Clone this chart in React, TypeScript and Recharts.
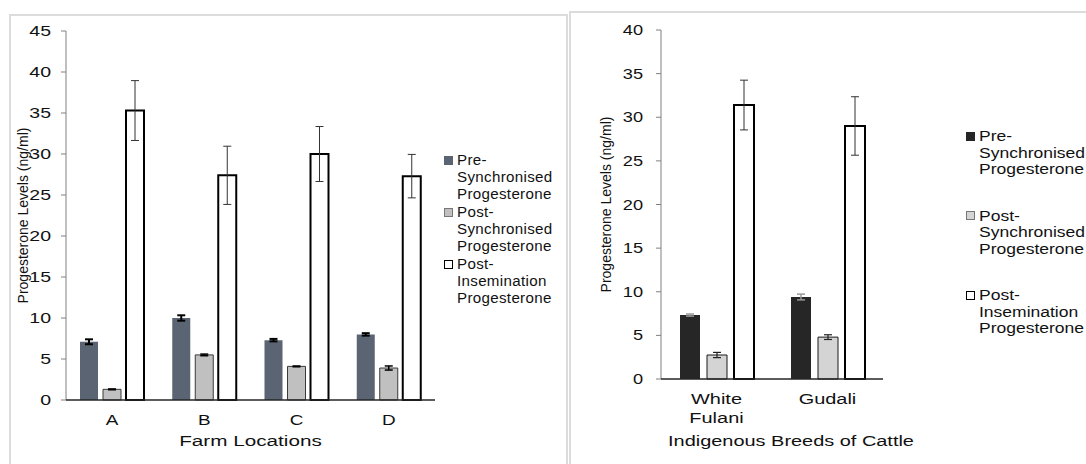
import React from 'react';
import { BarChart, Bar, XAxis, YAxis, ErrorBar, Legend, Label } from 'recharts';

const FONT = '"Liberation Sans", Arial, sans-serif';

// left panel: farm locations
const farms = ['A', 'B', 'C', 'D'];
const farmPre = [7.1, 10.0, 7.3, 8.0];
const farmPreErr = [0.3, 0.33, 0.15, 0.15];
const farmPostSync = [1.3, 5.5, 4.1, 3.9];
const farmPostSyncErr = [0.05, 0.1, 0.05, 0.25];
const farmPostInsem = [35.3, 27.4, 30.0, 27.3];
const farmPostInsemErr = [3.65, 3.55, 3.35, 2.65];
const farmTicks = [0, 5, 10, 15, 20, 25, 30, 35, 40, 45];

// right panel: breeds
const breeds = ['White\nFulani', 'Gudali'];
const breedPre = [7.33, 9.4];
const breedPreErr = [0.12, 0.33];
const breedPostSync = [2.75, 4.8];
const breedPostSyncErr = [0.3, 0.27];
const breedPostInsem = [31.4, 29.0];
const breedPostInsemErr = [2.85, 3.35];
const breedTicks = [0, 5, 10, 15, 20, 25, 30, 35, 40];

const seriesNames = [
  'Pre-\nSynchronised\nProgesterone',
  'Post-\nSynchronised\nProgesterone',
  'Post-\nInsemination\nProgesterone',
];
const yTitle = 'Progesterone Levels (ng/ml)';

const farmData = farms.map((name, i) => ({
  name,
  pre: farmPre[i],
  preErr: farmPreErr[i],
  postSync: farmPostSync[i],
  postSyncErr: farmPostSyncErr[i],
  postInsem: farmPostInsem[i],
  postInsemErr: farmPostInsemErr[i],
}));

const breedData = breeds.map((name, i) => ({
  name,
  pre: breedPre[i],
  preErr: breedPreErr[i],
  postSync: breedPostSync[i],
  postSyncErr: breedPostSyncErr[i],
  postInsem: breedPostInsem[i],
  postInsemErr: breedPostInsemErr[i],
}));

const StretchTick = (props: any) => {
  const { x, y, payload, sx, fontSize, anchor, dy, lineHeight } = props;
  const lines = String(payload.value).split('\n');
  return (
    <g transform={`translate(${x},${y})`}>
      <text
        transform={`scale(${sx},1)`}
        textAnchor={anchor}
        fontSize={fontSize}
        fontFamily={FONT}
        fill="#111"
      >
        {lines.map((l, i) => (
          <tspan key={i} x={0} dy={i === 0 ? dy : lineHeight}>
            {l}
          </tspan>
        ))}
      </text>
    </g>
  );
};

const xTitle = (text: string, dyBase: number, dx: number, sx: number) => (p: any) => {
  const vb = p.viewBox;
  const cx = vb.x + vb.width / 2 + dx;
  const cy = vb.y + dyBase;
  return (
    <g transform={`translate(${cx},${cy})`}>
      <text transform={`scale(${sx},1)`} textAnchor="middle" fontSize={15} fontFamily={FONT} fill="#111">
        {text}
      </text>
    </g>
  );
};

const yLabel = (dx: number) => (p: any) => {
  const vb = p.viewBox;
  const cx = vb.x + dx;
  const cy = vb.y + vb.height / 2;
  return (
    <text
      x={cx}
      y={cy}
      transform={`rotate(-90, ${cx}, ${cy})`}
      textAnchor="middle"
      dy="0.35em"
      fontSize={14}
      fontFamily={FONT}
      fill="#111"
    >
      {yTitle}
    </text>
  );
};

type Swatch = { fill: string; border: string };

// legend keeps the series order (recharts sorts by name otherwise)
const legendContent = (swatches: Swatch[], lineH: number, gap: number, sx: number, spacing: number) =>
  (props: any) => {
    const items = [...(props.payload || [])].sort(
      (a: any, b: any) => seriesNames.indexOf(a.value) - seriesNames.indexOf(b.value)
    );
    return (
      <div style={{ fontFamily: FONT, fontSize: 14, color: '#111' }}>
        {items.map((e: any) => {
          const sw = swatches[seriesNames.indexOf(e.value)];
          return (
            <div key={e.value} style={{ display: 'flex', alignItems: 'flex-start', marginBottom: gap }}>
              <span
                style={{
                  display: 'inline-block',
                  width: 9,
                  height: 9,
                  flex: '0 0 9px',
                  boxSizing: 'border-box',
                  marginTop: (lineH - 9) / 2,
                  background: sw.fill,
                  border: `1.5px solid ${sw.border}`,
                }}
              />
              <div
                style={{
                  marginLeft: 4,
                  whiteSpace: 'pre-line',
                  lineHeight: `${lineH}px`,
                  letterSpacing: spacing,
                  transform: `scaleX(${sx})`,
                  transformOrigin: 'left top',
                }}
              >
                {e.value}
              </div>
            </div>
          );
        })}
      </div>
    );
  };

const farmSwatches: Swatch[] = [
  { fill: '#5a6472', border: '#5a6472' },
  { fill: '#c0c0c0', border: '#777' },
  { fill: '#fff', border: '#000' },
];
const breedSwatches: Swatch[] = [
  { fill: '#262626', border: '#262626' },
  { fill: '#d4d4d4', border: '#777' },
  { fill: '#fff', border: '#000' },
];

export default function App() {
  return (
    <div
      style={{
        position: 'absolute',
        left: 0,
        top: 0,
        width: 1086,
        height: 464,
        overflow: 'hidden',
        background: '#fff',
        fontFamily: FONT,
      }}
    >
      <div
        style={{
          position: 'absolute',
          left: 9,
          top: 14,
          width: 559,
          height: 460,
          boxSizing: 'border-box',
          border: '2px solid #dcdcdc',
          borderBottom: 'none',
        }}
      >
        <BarChart
          width={555}
          height={448}
          data={farmData}
          barGap={5}
          margin={{ top: 15, right: 11, bottom: 14, left: 0 }}
        >
          <YAxis
            width={55}
            domain={[0, 45]}
            ticks={farmTicks}
            interval={0}
            stroke="#808080"
            tickSize={5}
            tickMargin={10}
            tick={<StretchTick sx={1.3} fontSize={15} anchor="end" dy={5} lineHeight={0} />}
          >
            <Label content={yLabel(12)} />
          </YAxis>
          <XAxis
            dataKey="name"
            height={50}
            stroke="#262626"
            strokeWidth={1.5}
            tickLine={false}
            tickSize={0}
            tickMargin={0}
            interval={0}
            tick={<StretchTick sx={1.35} fontSize={14} anchor="middle" dy={25} lineHeight={0} />}
          >
            <Label content={xTitle('Farm Locations', 46, 0, 1.38)} />
          </XAxis>
          <Legend
            layout="vertical"
            align="right"
            verticalAlign="top"
            width={120}
            wrapperStyle={{ left: 433, top: 136 }}
            content={legendContent(farmSwatches, 17, 1, 1.08, 0.3)}
          />
          <Bar dataKey="pre" name={seriesNames[0]} fill="#5a6472" barSize={18} isAnimationActive={false}>
            <ErrorBar dataKey="preErr" width={4} stroke="#000" strokeWidth={2} isAnimationActive={false} />
          </Bar>
          <Bar
            dataKey="postSync"
            name={seriesNames[1]}
            fill="#c0c0c0"
            stroke="#3a3a3a"
            strokeWidth={1}
            barSize={18}
            isAnimationActive={false}
          >
            <ErrorBar dataKey="postSyncErr" width={4} stroke="#000" strokeWidth={1.5} isAnimationActive={false} />
          </Bar>
          <Bar
            dataKey="postInsem"
            name={seriesNames[2]}
            fill="#fff"
            stroke="#000"
            strokeWidth={2}
            barSize={18}
            isAnimationActive={false}
          >
            <ErrorBar dataKey="postInsemErr" width={4} stroke="#333" strokeWidth={1} isAnimationActive={false} />
          </Bar>
        </BarChart>
      </div>

      <div
        style={{
          position: 'absolute',
          left: 569,
          top: 11,
          width: 530,
          height: 470,
          boxSizing: 'border-box',
          border: '2px solid #dcdcdc',
          borderBottom: 'none',
        }}
      >
        <BarChart
          width={515}
          height={451}
          data={breedData}
          barGap={7}
          margin={{ top: 17, right: 73, bottom: 10, left: 0 }}
        >
          <YAxis
            width={90}
            domain={[0, 40]}
            ticks={breedTicks}
            interval={0}
            stroke="#808080"
            tickSize={5}
            tickMargin={13}
            tick={<StretchTick sx={1.3} fontSize={14} anchor="end" dy={5} lineHeight={0} />}
          >
            <Label content={yLabel(35)} />
          </YAxis>
          <XAxis
            dataKey="name"
            height={75}
            stroke="#262626"
            strokeWidth={1.5}
            tickLine={false}
            tickSize={0}
            tickMargin={0}
            interval={0}
            tick={<StretchTick sx={1.33} fontSize={15} anchor="middle" dy={25} lineHeight={19} />}
          >
            <Label content={xTitle('Indigenous Breeds of Cattle', 67, 19, 1.33)} />
          </XAxis>
          <Legend
            layout="vertical"
            align="right"
            verticalAlign="top"
            width={130}
            wrapperStyle={{ left: 395, top: 115 }}
            content={legendContent(breedSwatches, 16.5, 30, 1.25, 0)}
          />
          <Bar dataKey="pre" name={seriesNames[0]} fill="#262626" barSize={20} isAnimationActive={false}>
            <ErrorBar dataKey="preErr" width={4} stroke="#9a9a9a" strokeWidth={1.5} isAnimationActive={false} />
          </Bar>
          <Bar
            dataKey="postSync"
            name={seriesNames[1]}
            fill="#d4d4d4"
            stroke="#1a1a1a"
            strokeWidth={1}
            barSize={20}
            isAnimationActive={false}
          >
            <ErrorBar dataKey="postSyncErr" width={4} stroke="#222" strokeWidth={1.2} isAnimationActive={false} />
          </Bar>
          <Bar
            dataKey="postInsem"
            name={seriesNames[2]}
            fill="#fff"
            stroke="#000"
            strokeWidth={2}
            barSize={20}
            isAnimationActive={false}
          >
            <ErrorBar dataKey="postInsemErr" width={4} stroke="#333" strokeWidth={1} isAnimationActive={false} />
          </Bar>
        </BarChart>
      </div>
    </div>
  );
}
